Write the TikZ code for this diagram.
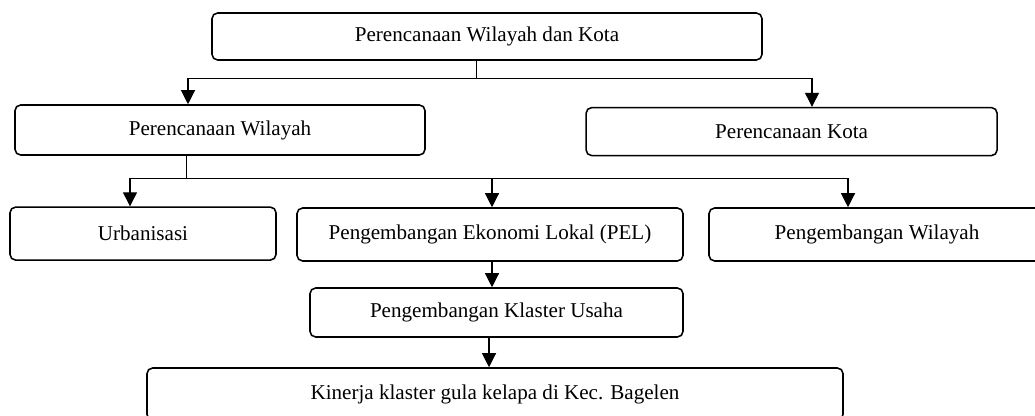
\documentclass[tikz,border=0pt]{standalone}
\usepackage{fontspec}
\setmainfont{Liberation Serif}
\usetikzlibrary{arrows.meta}

\tikzset{
	kotak/.style={draw, rounded corners=4pt, line width=1.1pt, inner sep=0pt, font=\fontsize{15}{18}\selectfont},
	panah/.style={-{Triangle[width=10pt,length=10pt]}, line width=0.8pt},
	garis/.style={line width=0.7pt}
}

\begin{document}
\begin{tikzpicture}
		%%%%% START %%%%%
		\useasboundingbox (0, 0) rectangle (25.875, -10.4);
		\clip (0, 0) rectangle (25.875, -10.4);
		
		\node[kotak, minimum width=13.75cm, minimum height=1.175cm] (pwk) at (12.175, -0.9125) {Perencanaan Wilayah dan Kota};
		
		\node[kotak, minimum width=10.25cm, minimum height=1.25cm] (pw) at (5.5, -3.25) {Perencanaan Wilayah};
		\node[kotak, minimum width=10.275cm, minimum height=1.2cm] (pk) at (19.79, -3.29) {Perencanaan Kota};
		
		\node[kotak, minimum width=6.65cm, minimum height=1.325cm] (urb) at (3.575, -5.84) {Urbanisasi};
		\node[kotak, minimum width=9.65cm, minimum height=1.325cm] (pel) at (12.25, -5.8625) {Pengembangan Ekonomi Lokal (PEL)};
		% kotak kanan terpotong di tepi gambar
		\node[kotak, draw=none, minimum width=8.4cm, minimum height=1.325cm] (pwil) at (21.925, -5.8625) {Pengembangan Wilayah};
		\draw[line width=1.1pt, rounded corners=4pt] (26.5, -5.2) -- (17.725, -5.2) -- (17.725, -6.525) -- (26.5, -6.525);
		
		\node[kotak, minimum width=9.325cm, minimum height=1.225cm] (klaster) at (12.4125, -7.8125) {Pengembangan Klaster Usaha};
		\node[kotak, minimum width=17.4cm, minimum height=1.3cm] (kinerja) at (12.375, -9.85) {Kinerja klaster gula kelapa di Kec. Bagelen};
		
		% level 1
		\coordinate (c1) at (11.9, -1.95);
		\coordinate (c1l) at (4.7, -1.95);
		\coordinate (c1r) at (20.3, -1.95);
		\draw[garis] (pwk.south -| c1) -- (c1);
		\draw[garis] (c1l) -- (c1r);
		\draw[panah] (c1l) -- (c1l |- pw.north);
		\draw[panah] (c1r) -- (c1r |- pk.north);
		
		% level 2
		\coordinate (c2) at (4.65, -4.45);
		\coordinate (c2l) at (3.25, -4.45);
		\coordinate (c2m) at (12.3, -4.45);
		\coordinate (c2r) at (21.2, -4.45);
		\draw[garis] (pw.south -| c2) -- (c2);
		\draw[garis] (c2l) -- (c2r);
		\draw[panah] (c2l) -- (c2l |- urb.north);
		\draw[panah] (c2m) -- (c2m |- pel.north);
		\draw[panah] (c2r) -- (c2r |- pwil.north);
		
		% level 3
		\coordinate (c3) at (12.3, 0);
		\coordinate (c4) at (12.225, 0);
		\draw[panah] (pel.south -| c3) -- (klaster.north -| c3);
		\draw[panah] (klaster.south -| c4) -- (kinerja.north -| c4);
		
		%%%%% END %%%%%
	\end{tikzpicture}
\end{document}
